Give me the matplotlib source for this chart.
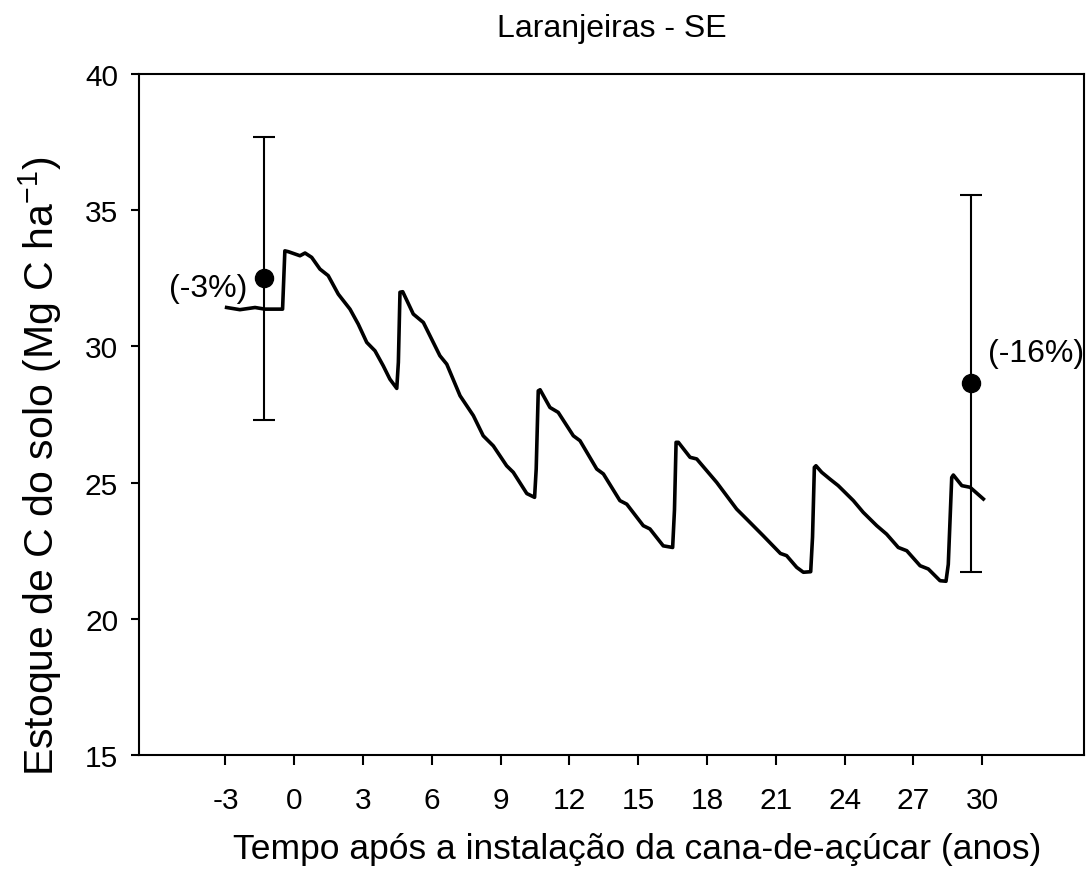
import matplotlib
matplotlib.use("Agg")
import matplotlib.pyplot as plt

plt.rcParams["font.family"] = ["Liberation Sans", "DejaVu Sans"]
plt.rcParams["mathtext.fontset"] = "custom"
plt.rcParams["mathtext.rm"] = "Liberation Sans"
plt.rcParams["mathtext.it"] = "Liberation Sans:italic"
plt.rcParams["axes.unicode_minus"] = False

# modelled soil C stock (line)
years = [-2.95, -2.37, -1.71, -1.28, -0.51, -0.41, -0.26, 0.25, 0.47, 0.76,
         1.12, 1.48, 1.92, 2.43, 2.79, 3.16, 3.52, 3.88, 4.17, 4.47,
         4.54, 4.61, 4.73, 5.19, 5.63, 6.35, 6.65, 7.23, 7.81, 8.24,
         8.68, 9.26, 9.55, 10.14, 10.48, 10.55, 10.64, 10.72, 11.15, 11.51,
         12.17, 12.46, 13.19, 13.48, 14.20, 14.50, 15.22, 15.51, 16.09, 16.50,
         16.58, 16.65, 16.75, 17.26, 17.55, 18.42, 19.29, 19.73, 20.45, 21.20,
         21.47, 21.91, 22.20, 22.52, 22.60, 22.68, 22.75, 23.00, 23.36, 23.72,
         24.38, 24.81, 25.40, 25.83, 26.34, 26.71, 27.29, 27.65, 28.16, 28.42,
         28.52, 28.67, 28.74, 29.11, 29.47, 30.05]
stock = [31.43, 31.35, 31.43, 31.37, 31.37, 33.51, 33.48, 33.33, 33.43, 33.27,
         32.84, 32.60, 31.92, 31.37, 30.82, 30.15, 29.84, 29.29, 28.80, 28.46,
         29.42, 31.99, 32.01, 31.19, 30.88, 29.66, 29.35, 28.19, 27.46, 26.72,
         26.35, 25.62, 25.38, 24.60, 24.46, 25.50, 28.37, 28.41, 27.76, 27.58,
         26.72, 26.54, 25.50, 25.32, 24.34, 24.21, 23.42, 23.30, 22.68, 22.62,
         24.00, 26.48, 26.48, 25.93, 25.87, 25.01, 24.03, 23.66, 23.05, 22.40,
         22.32, 21.89, 21.71, 21.73, 23.00, 25.56, 25.62, 25.38, 25.13, 24.89,
         24.34, 23.91, 23.42, 23.11, 22.62, 22.50, 21.95, 21.83, 21.40, 21.38,
         22.00, 25.19, 25.28, 24.89, 24.83, 24.40]

# measured stocks with error bars
obs_x = [-1.32, 29.51]
obs_y = [32.51, 28.65]
obs_low = [27.30, 21.73]
obs_high = [37.68, 35.57]
obs_labels = ["(-3%)", "(-16%)"]

xticks = [-3, 0, 3, 6, 9, 12, 15, 18, 21, 24, 27, 30]
yticks = [15, 20, 25, 30, 35, 40]

fig = plt.figure(figsize=(10.86, 8.79), dpi=100)
ax = fig.add_axes([0.128, 0.1399, 0.8702, 0.7747])

ax.plot(years, stock, color="black", lw=2.6)

yerr = [[y - lo for y, lo in zip(obs_y, obs_low)],
        [hi - y for y, hi in zip(obs_y, obs_high)]]
ax.errorbar(obs_x, obs_y, yerr=yerr, fmt="o", color="black", ms=13,
            elinewidth=1.5, capsize=8, capthick=1.5)

ax.text(-2.06, 32.14, obs_labels[0], ha="right", va="center", fontsize=23)
ax.text(30.25, 29.76, obs_labels[1], ha="left", va="center", fontsize=23)

ax.set_xlim(-6.77, 34.44)
ax.set_ylim(15, 40)
ax.set_xticks(xticks)
ax.set_yticks(yticks)
ax.tick_params(direction="out", width=1.5, labelsize=21.5)
ax.tick_params(axis="x", length=7, pad=15)
ax.tick_params(axis="y", length=6, pad=9)
for sp in ax.spines.values():
    sp.set_linewidth(1.5)

fig.text(0.563, 0.958, "Laranjeiras - SE", ha="center", va="baseline", fontsize=23)
fig.text(0.587, 0.033, "Tempo após a instalação da cana-de-açúcar (anos)",
         ha="center", va="center", fontsize=25.5)
fig.text(0.037, 0.47, "Estoque de C do solo (Mg C ha$^{-1}$)",
         ha="center", va="center", rotation=90, fontsize=29.5)

fig.savefig("out.png", dpi=100)
